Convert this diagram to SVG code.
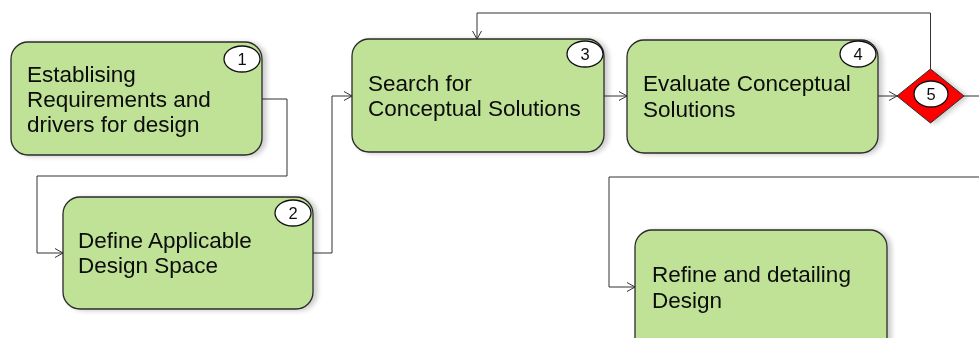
<svg xmlns="http://www.w3.org/2000/svg" width="979" height="338" viewBox="0 0 979 338">
  <defs>
    <filter id="shadow" x="-10%" y="-10%" width="130%" height="130%">
      <feGaussianBlur in="SourceAlpha" stdDeviation="2.5"/>
      <feOffset dx="4" dy="1" result="b"/>
      <feComponentTransfer><feFuncA type="linear" slope="0.2"/></feComponentTransfer>
      <feMerge><feMergeNode/><feMergeNode in="SourceGraphic"/></feMerge>
    </filter>
    <marker id="arrow" markerWidth="10" markerHeight="10" refX="9" refY="5" orient="auto" markerUnits="userSpaceOnUse">
      <path d="M1,0.5 L9,5 L1,9.5" fill="none" stroke="#333" stroke-width="1"/>
    </marker>
  </defs>
  <style>
    .task { fill: #bfe297; stroke: #2b2b2b; stroke-width: 1.3; }
    .badge { fill: #ffffff; stroke: #111; stroke-width: 1.3; }
    .gate { fill: #ff0000; stroke: #2b2b2b; stroke-width: 1; }
    .label { font-family: "Liberation Sans", Arial, sans-serif; font-size: 22.5px; fill: #0a0a0a; }
    .num { font-family: "Liberation Sans", Arial, sans-serif; font-size: 16.5px; fill: #111; text-anchor: middle; }
    .link { fill: none; stroke: #333; stroke-width: 1; }
  </style>
  <rect width="979" height="338" fill="#ffffff"/>

  <g id="connectors">
    <path class="link" d="M262,99 H287 V176 H37 V253 H63" marker-end="url(#arrow)"/>
    <path class="link" d="M313,253 H332 V96 H352" marker-end="url(#arrow)"/>
    <path class="link" d="M604,96 H627" marker-end="url(#arrow)"/>
    <path class="link" d="M878,96 H897" marker-end="url(#arrow)"/>
    <path class="link" d="M964,96 H979"/>
    <path class="link" d="M930.5,69 V13 H477 V39" marker-end="url(#arrow)"/>
    <path class="link" d="M979,177 H609 V287 H635" marker-end="url(#arrow)"/>
  </g>

  <g id="node1" filter="url(#shadow)">
    <rect class="task" x="11" y="42" width="251" height="113" rx="17"/>
    <text class="label" x="27" y="82">Establising</text>
    <text class="label" x="27" y="107">Requirements and</text>
    <text class="label" x="27" y="132">drivers for design</text>
    <ellipse class="badge" cx="242" cy="59" rx="18" ry="13"/>
    <text class="num" x="242" y="65">1</text>
  </g>

  <g id="node2" filter="url(#shadow)">
    <rect class="task" x="63" y="197" width="250" height="112" rx="17"/>
    <text class="label" x="78" y="248">Define Applicable</text>
    <text class="label" x="78" y="273">Design Space</text>
    <ellipse class="badge" cx="293" cy="213" rx="18" ry="13"/>
    <text class="num" x="293" y="219">2</text>
  </g>

  <g id="node3" filter="url(#shadow)">
    <rect class="task" x="352" y="39" width="252" height="113" rx="17"/>
    <text class="label" x="368" y="91">Search for</text>
    <text class="label" x="368" y="116">Conceptual Solutions</text>
    <ellipse class="badge" cx="585" cy="54" rx="18" ry="13"/>
    <text class="num" x="585" y="60">3</text>
  </g>

  <g id="node4" filter="url(#shadow)">
    <rect class="task" x="627" y="40" width="251" height="113" rx="17"/>
    <text class="label" x="643" y="91">Evaluate Conceptual</text>
    <text class="label" x="643" y="117">Solutions</text>
    <ellipse class="badge" cx="858" cy="54" rx="18" ry="13"/>
    <text class="num" x="858" y="60">4</text>
  </g>

  <g id="node5" filter="url(#shadow)">
    <polygon class="gate" points="930.5,69 964,96 930.5,123 897,96"/>
    <ellipse class="badge" cx="931" cy="94" rx="17" ry="13"/>
    <text class="num" x="931" y="100">5</text>
  </g>

  <g id="node6" filter="url(#shadow)">
    <rect class="task" x="635" y="230" width="252" height="125" rx="17"/>
    <text class="label" x="652" y="282">Refine and detailing</text>
    <text class="label" x="652" y="308">Design</text>
  </g>
</svg>
